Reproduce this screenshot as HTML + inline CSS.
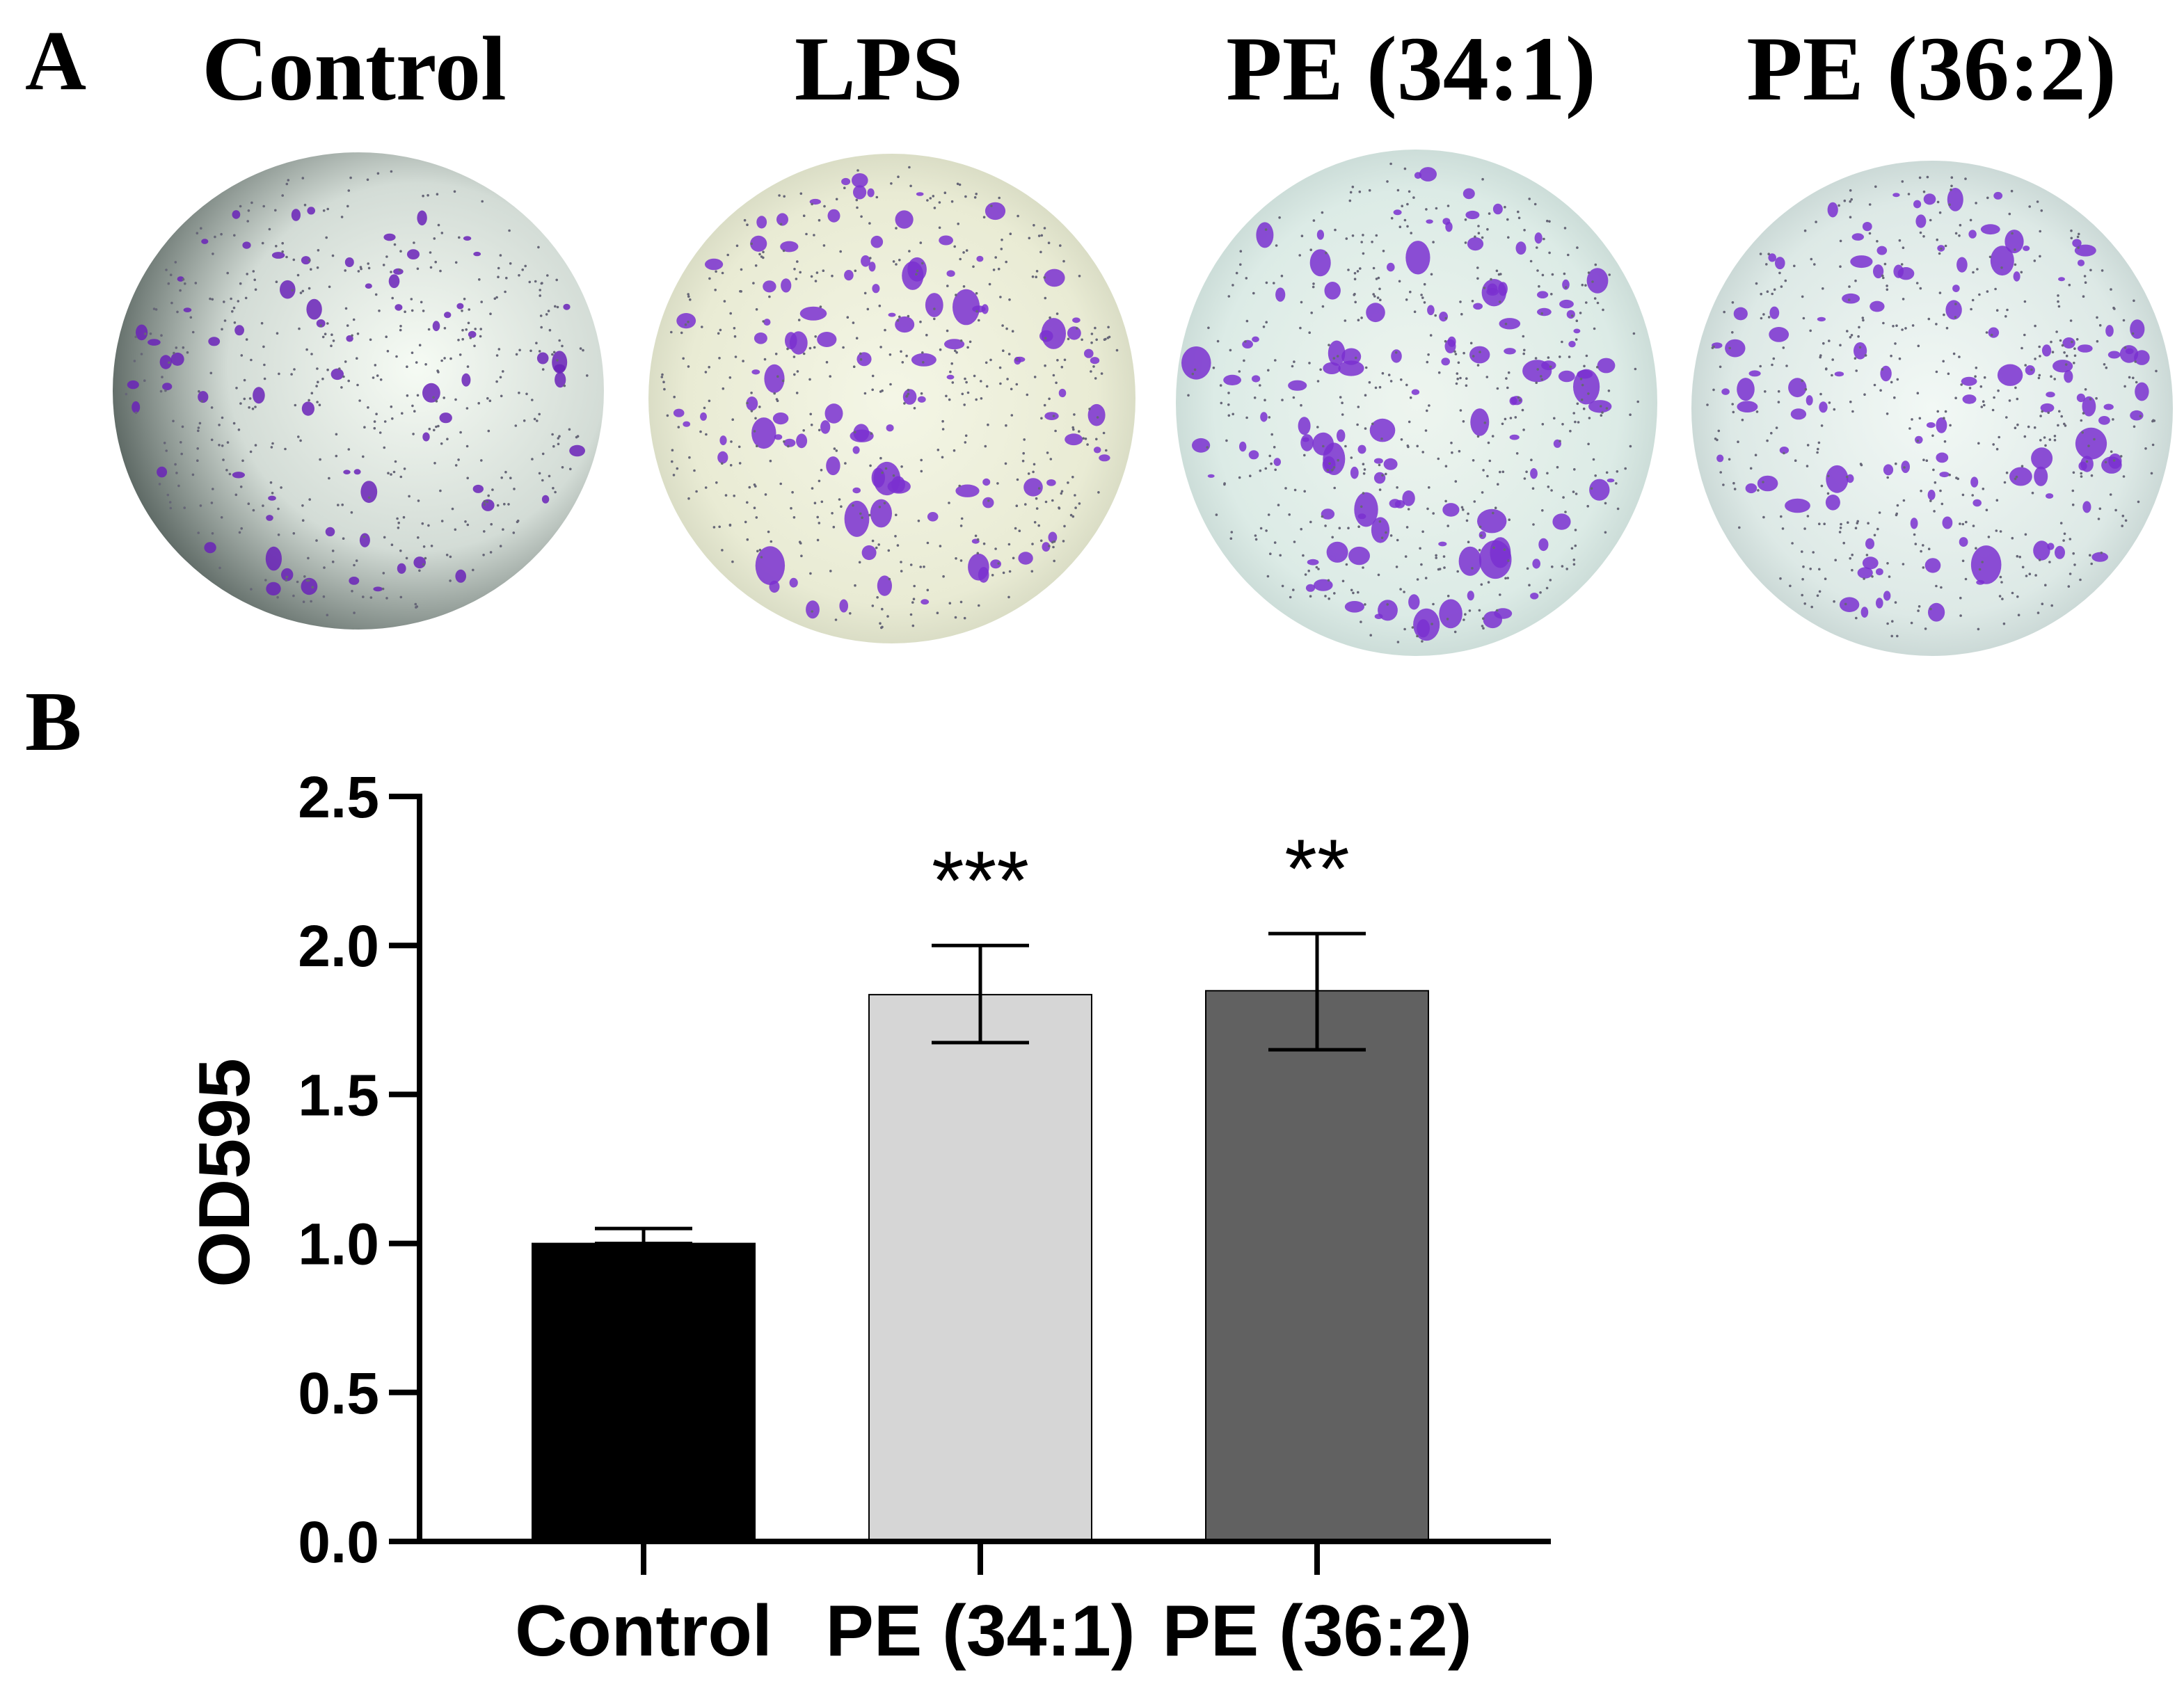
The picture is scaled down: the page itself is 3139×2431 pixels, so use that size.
<!DOCTYPE html>
<html><head><meta charset="utf-8"><style>
html,body{margin:0;padding:0;background:#fff}
svg{display:block}
</style></head><body>
<svg id="fig" width="3139" height="2431" viewBox="0 0 3139 2431" xmlns="http://www.w3.org/2000/svg">
<defs>
<radialGradient id="g0" cx="0.62" cy="0.45" r="0.7"><stop offset="0" stop-color="#f6fbf4"/><stop offset="0.55" stop-color="#d3dcd6"/><stop offset="1" stop-color="#3e4a46"/></radialGradient>
<radialGradient id="g1" cx="0.5" cy="0.5" r="0.6"><stop offset="0" stop-color="#f4f6e6"/><stop offset="0.7" stop-color="#e9ebd4"/><stop offset="1" stop-color="#c8ccb4"/></radialGradient>
<radialGradient id="g2" cx="0.5" cy="0.5" r="0.6"><stop offset="0" stop-color="#eef5ef"/><stop offset="0.7" stop-color="#dcebe6"/><stop offset="1" stop-color="#b9ccc8"/></radialGradient>
<radialGradient id="g3" cx="0.5" cy="0.5" r="0.6"><stop offset="0" stop-color="#f2f8f5"/><stop offset="0.7" stop-color="#dde9e6"/><stop offset="1" stop-color="#b6c6c4"/></radialGradient>
</defs>
<g font-family="'Liberation Serif', serif" font-weight="bold" fill="#000">
<text x="36" y="128" font-size="122">A</text>
<text x="509" y="143" font-size="132" text-anchor="middle">Control</text>
<text x="1263" y="143" font-size="132" text-anchor="middle">LPS</text>
<text x="2028" y="143" font-size="132" text-anchor="middle">PE (34:1)</text>
<text x="2776" y="143" font-size="132" text-anchor="middle">PE (36:2)</text>
<text x="36" y="1078" font-size="122">B</text>
</g>
<g id="wells"></g>
<g id="chart"></g>
</svg>
<script>
// ----- chart data -----
const categories = ["Control", "PE (34:1)", "PE (36:2)"];
const means = [1.0, 1.835, 1.848];
const errUpper = [1.05, 2.0, 2.04];
const errLower = [1.0, 1.674, 1.65];
const stars = ["", "***", "**"];
const barColors = ["#000000", "#d6d6d6", "#616161"];
const yTicks = [0, 0.5, 1.0, 1.5, 2.0, 2.5];
const yTickLabels = ["0.0", "0.5", "1.0", "1.5", "2.0", "2.5"];

const NS = "http://www.w3.org/2000/svg";
function mk(tag, attrs, parent){const e=document.createElementNS(NS,tag);for(const k in attrs)e.setAttribute(k,attrs[k]);parent.appendChild(e);return e;}

// ----- wells (decorative images) -----
const wells = document.getElementById('wells');
const wellDefs = [[515,562,353,343,'g0',0.5],[1282,573,350,352,'g1',0.9],[2036,579,346,364,'g2',1.0],[2777,587,346,356,'g3',1.0]];
const wellNames = ['well-control','well-lps','well-pe-34-1','well-pe-36-2'];
let seed = 12345;
function rnd(){seed=(seed*1103515245+12345)%2147483648;return seed/2147483648;}
wellDefs.forEach((w,i)=>{
  const g = mk('g',{},wells);
  
  
  mk('ellipse',{cx:w[0],cy:w[1],rx:w[2],ry:w[3],fill:'url(#'+w[4]+')'},g);
  const n = Math.round(120*Math.max(w[5],0.6));
  for(let k=0;k<n;k++){
    const a=rnd()*Math.PI*2, r=Math.sqrt(rnd())*0.93;
    const x=w[0]+Math.cos(a)*r*w[2], y=w[1]+Math.sin(a)*r*w[3];
    const s=5+rnd()*rnd()*20*w[5];
    mk('ellipse',{cx:x.toFixed(1),cy:y.toFixed(1),rx:s.toFixed(1),ry:(s*(0.5+rnd())).toFixed(1),fill:i===0?'#6a22b8':'#7a30d0',opacity:0.85},g);
  }
  for(let k=0;k<500;k++){
    const a=rnd()*Math.PI*2, r=Math.sqrt(rnd())*0.95;
    mk('circle',{cx:(w[0]+Math.cos(a)*r*w[2]).toFixed(1),cy:(w[1]+Math.sin(a)*r*w[3]).toFixed(1),r:1.8,fill:'#667'},g);
  }
});

// ----- bar chart -----
const chart = document.getElementById('chart');
const X0 = 603, XEND = 2229, Y0 = 2216, YTOP = 1145;
const barW = 320, centers0 = 925, step = 484;
function ys(v){return Y0 - (v/2.5)*(Y0-YTOP);}
function xc(i){return centers0 + i*step;}
const SANS = "'Liberation Sans', sans-serif";

categories.forEach((c,i)=>{
  const x = xc(i);
  const b = mk('rect',{x:x-barW/2,y:ys(means[i]),width:barW,height:Y0-ys(means[i]),fill:barColors[i],stroke:'#000','stroke-width':2},chart);
  
  
  const e = mk('path',{d:`M${x-70},${ys(errUpper[i])}H${x+70}M${x},${ys(errUpper[i])}V${ys(errLower[i])}M${x-70},${ys(errLower[i])}H${x+70}`,stroke:'#000','stroke-width':5,fill:'none'},chart);
  
  
  if(stars[i]){
    const s = mk('text',{x:x,y:ys(errUpper[i])-52,'font-family':SANS,'font-size':120,'text-anchor':'middle'},chart);
    s.textContent = stars[i];
    
    
  }
  const t = mk('path',{d:`M${x},${Y0}V${Y0+48}`,stroke:'#000','stroke-width':8},chart);
  
  
  const l = mk('text',{x:x,y:2380,'font-family':SANS,'font-weight':'bold','font-size':104,'text-anchor':'middle'},chart);
  l.textContent = c;
  
  
});

const ax = mk('path',{d:`M${X0},${YTOP-4}V${Y0}H${XEND}`,stroke:'#000','stroke-width':8,fill:'none'},chart);


yTicks.forEach((v,i)=>{
  const t = mk('path',{d:`M${X0-44},${ys(v)}H${X0}`,stroke:'#000','stroke-width':8},chart);
  
  
  const l = mk('text',{x:X0-58,y:ys(v)+30,'font-family':SANS,'font-weight':'bold','font-size':84,'text-anchor':'end'},chart);
  l.textContent = yTickLabels[i];
  
  
});
const yt = mk('text',{x:0,y:0,'font-family':SANS,'font-weight':'bold','font-size':104,'text-anchor':'middle',transform:'translate(358,1686) rotate(-90)'},chart);
yt.textContent = 'OD595';


</script>
</body></html>
